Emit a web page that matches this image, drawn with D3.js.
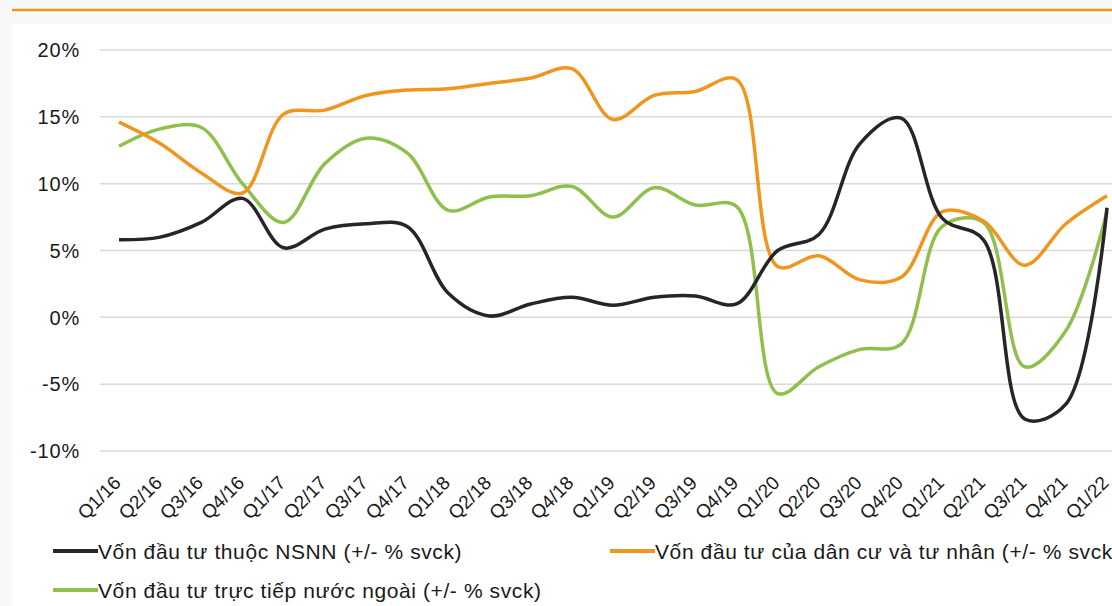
<!DOCTYPE html>
<html>
<head>
<meta charset="utf-8">
<script src="https://cdn.jsdelivr.net/npm/d3@7"></script>
<style>
  body { margin: 0; background: #ffffff; }
  svg text { font-family: "Liberation Sans", Arial, sans-serif; fill: #1a1a1a; }
</style>
</head>
<body>
<div class="canvas"></div>
<script>
// quarters on the x axis
const quarters = ["Q1/16","Q2/16","Q3/16","Q4/16","Q1/17","Q2/17","Q3/17","Q4/17",
  "Q1/18","Q2/18","Q3/18","Q4/18","Q1/19","Q2/19","Q3/19","Q4/19",
  "Q1/20","Q2/20","Q3/20","Q4/20","Q1/21","Q2/21","Q3/21","Q4/21","Q1/22"];

// % yoy for each capital source
const nsnn = [5.8, 6.0, 7.1, 8.9, 5.2, 6.6, 7.0, 6.8, 1.8, 0.1, 1.0, 1.5, 0.9, 1.5, 1.6, 1.0,
  5.0, 6.2, 13.0, 14.9, 7.4, 5.8, -7.6, -6.5, 8.2];
const tuNhan = [14.6, 13.0, 10.8, 9.3, 15.2, 15.5, 16.6, 17.0, 17.1, 17.5, 17.9, 18.6, 14.8, 16.6, 16.9, 17.8,
  3.8, 4.6, 2.8, 3.0, 7.9, 7.2, 3.9, 7.0, 9.1];
const fdi = [12.8, 14.1, 14.2, 10.0, 7.1, 11.5, 13.4, 12.3, 8.0, 9.0, 9.1, 9.8, 7.5, 9.7, 8.4, 8.3,
  -5.7, -3.7, -2.4, -2.0, 6.8, 7.1, -3.7, -1.0, 7.9];

const yTicks = [-10, -5, 0, 5, 10, 15, 20];
const seriesNames = ["Vốn đầu tư thuộc NSNN (+/- % svck)",
  "Vốn đầu tư của dân cư và tư nhân (+/- % svck)",
  "Vốn đầu tư trực tiếp nước ngoài (+/- % svck)"];

const W = 1112, H = 606;
const plot = {left: 100, right: 1112, top: 50, bottom: 451};

const svg = d3.select(".canvas")
  .append("svg")
    .attr("width", W)
    .attr("height", H);

// faint page background + orange header rule
svg.append("rect").attr("x", 0).attr("y", 0).attr("width", W).attr("height", H).attr("fill", "#f8f8f8");
svg.append("rect").attr("x", 12).attr("y", 24).attr("width", W).attr("height", H).attr("fill", "#ffffff");
svg.append("line")
  .attr("x1", 12).attr("x2", W).attr("y1", 10).attr("y2", 10)
  .attr("stroke", "#f7941d").attr("stroke-width", 2.5);

const x = d3.scalePoint()
  .domain(quarters)
  .range([119, 1107]);

const y = d3.scaleLinear()
  .domain([-10, 20])
  .range([plot.bottom, plot.top]);

// gridlines
svg.append("g")
  .selectAll("line")
  .data(yTicks)
  .join("line")
    .attr("x1", plot.left).attr("x2", plot.right)
    .attr("y1", d => y(d)).attr("y2", d => y(d))
    .attr("stroke", "#d9d9d9").attr("stroke-width", 1.5);

// y labels
svg.append("g")
  .selectAll("text")
  .data(yTicks)
  .join("text")
    .attr("x", 80)
    .attr("y", d => y(d))
    .attr("dy", "0.36em")
    .attr("text-anchor", "end")
    .style("font-size", "20px")
    .style("letter-spacing", "0.8px")
    .text(d => d + "%");

// x labels, rotated
svg.append("g")
  .selectAll("text")
  .data(quarters)
  .join("text")
    .attr("text-anchor", "end")
    .attr("transform", d => `translate(${x(d) + 3},${484}) rotate(-45)`)
    .style("font-size", "19px")
    .text(d => d);

const colors = ["#262626", "#f0961f", "#8fbf4d"];
const series = [nsnn, tuNhan, fdi];

const line = d3.line()
  .x((d, i) => x(quarters[i]))
  .y(d => y(d))
  .curve(d3.curveCatmullRom.alpha(0.5));

// draw green first, then orange, black on top
[2, 1, 0].forEach(k => {
  svg.append("path")
    .datum(series[k])
    .attr("d", line)
    .attr("fill", "none")
    .attr("stroke", colors[k])
    .attr("stroke-width", 3.5)
    .attr("stroke-linejoin", "round");
});

// legend
const legendPos = [{x: 53, y: 551}, {x: 610, y: 551}, {x: 53, y: 590}];
const legend = svg.append("g")
  .selectAll("g")
  .data(seriesNames)
  .join("g")
    .attr("transform", (d, i) => `translate(${legendPos[i].x},${legendPos[i].y})`);
legend.append("line")
  .attr("x1", 0).attr("x2", 45).attr("y1", 0).attr("y2", 0)
  .attr("stroke", (d, i) => colors[i]).attr("stroke-width", 4);
legend.append("text")
  .attr("x", 45)
  .attr("dy", "0.36em")
  .style("font-size", "21px")
  .style("letter-spacing", "0.6px")
  .text(d => d);
</script>
</body>
</html>
